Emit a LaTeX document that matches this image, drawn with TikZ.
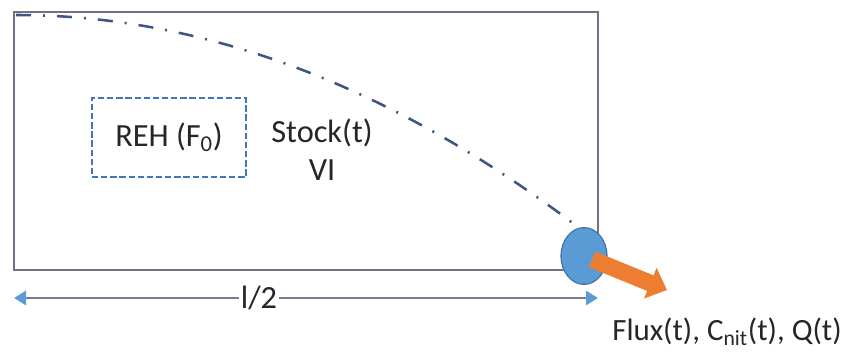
\documentclass[tikz,border=0pt]{standalone}
\usepackage{fontspec}
\setmainfont{Carlito}
\usepackage{xcolor}
\usepackage{tikz}
\usetikzlibrary{positioning, arrows.meta, shapes.geometric, calc}

\definecolor{framegray}{RGB}{112,112,134}
\definecolor{rehblue}{RGB}{68,114,196}
\definecolor{curveblue}{RGB}{62,86,128}
\definecolor{outletblue}{RGB}{91,155,213}
\definecolor{outletedge}{RGB}{65,113,156}
\definecolor{fluxorange}{RGB}{237,125,49}
\definecolor{dimgray}{RGB}{122,122,150}

\begin{document}
\begin{tikzpicture}[
    x=0.025cm, y=-0.025cm,
    >=stealth,
    every node/.style={font=\fontsize{23}{27}\selectfont, text=black!85},
    stockbox/.style={rectangle, draw=framegray, line width=1.4pt, minimum width=14.6cm, minimum height=6.45cm, inner sep=0pt},
    rehbox/.style={rectangle, draw=rehblue, dash pattern=on 4.5pt off 2pt, line width=1.3pt, minimum width=3.85cm, minimum height=1.975cm},
    outletnode/.style={ellipse, draw=outletedge, fill=outletblue, line width=0.8pt, minimum width=1.15cm, minimum height=1.42cm, inner sep=0pt},
    flowline/.style={draw=curveblue, line width=1.8pt, dash pattern=on 0.375cm off 0.3cm on 0.05cm off 0.3cm},
    fluxarrow/.style={draw=fluxorange, line width=0.42cm, -{Triangle[width=0.8cm, length=0.45cm]}},
    dimline/.style={draw=dimgray, line width=2pt, {Triangle[length=0.3cm, width=0.35cm, color=outletblue]}-{Triangle[length=0.3cm, width=0.35cm, color=outletblue]}},
    dimlabel/.style={fill=white, inner sep=1pt}
]
\useasboundingbox (0,0) rectangle (849,353);

% Stock frame and inner zone
\node[stockbox] (stock) at (306,141) {};
\node[rehbox] (reh) at (169,137.5) {REH (F\textsubscript{0})};
\node[align=center] (stocklabel) at (322,150) {Stock(t)\\VI};

% Outlet
\node[outletnode] (outlet) at (584,256) {};

% Dash-dot curve down to the outlet
\coordinate (curvestart) at (16,15);
\coordinate (curveend) at (574,224);
\draw[flowline] (curvestart) .. controls (201,15) and (388,84) .. (curveend);

% Outflow arrow and label
\coordinate (fluxtip) at (667,290);
\draw[fluxarrow, shorten <=0.22cm] (outlet.center) -- (fluxtip);
\node[font=\fontsize{22}{26}\selectfont] (fluxlabel) at (727,332) {Flux(t), C\textsubscript{nit}(t), Q(t)};

% Half length
\coordinate (dimL) at (14,298);
\coordinate (dimR) at (598,298);
\draw[dimline] (dimL) -- (dimR);
\node[dimlabel] (halflen) at (259,298) {l/2};

\end{tikzpicture}
\end{document}
